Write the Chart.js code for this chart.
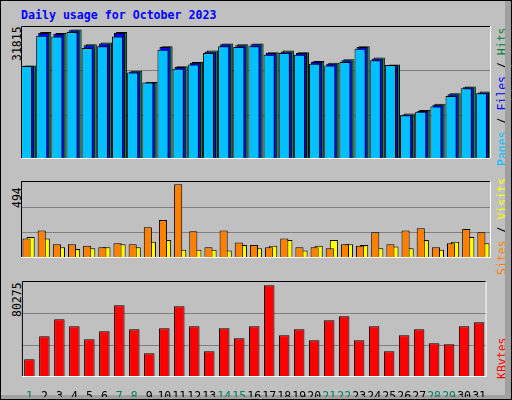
<!DOCTYPE html>
<html><head><meta charset="utf-8">
<script src="https://cdn.jsdelivr.net/npm/chart.js@4"></script>
<style>
body{margin:0;background:#fff}
#frame{position:absolute;left:0;top:0;width:510px;height:398px;background:#c0c0c0;border:1px solid #000;overflow:hidden;font-family:"DejaVu Sans Mono",monospace}
#frame:after{content:"";position:absolute;right:0;top:0;width:6px;height:398px;background:#a0a0a0}
#frame:before{content:"";position:absolute;left:0;bottom:0;width:510px;height:4px;background:#a0a0a0}
canvas{position:absolute}
.t{position:absolute;white-space:nowrap}
.rot{transform-origin:0 0;transform:rotate(-90deg)}
</style></head><body>
<div id="frame">
  <div class="t" style="left:20px;top:7px;color:#0000ff;font-weight:bold;font-size:11.6px">Daily usage for October 2023</div>
  <div class="t rot" style="left:9px;top:60px;font-size:11.5px">31815</div>
  <div class="t rot" style="left:9px;top:207px;font-size:11.5px">494</div>
  <div class="t rot" style="left:9px;top:316px;font-size:11.5px">80275</div>
  <div class="t rot" style="left:494px;top:165px;font-size:11.5px"><span style="color:#00c0ff">Pages</span> / <span style="color:#0000ff">Files</span> / <span style="color:#008040">Hits</span></div>
  <div class="t rot" style="left:494px;top:274px;font-size:11.5px"><span style="color:#ff8000">Sites</span> / <span style="color:#ffff00">Visits</span></div>
  <div class="t rot" style="left:494px;top:378px;font-size:11.5px;color:#ff0000">KBytes</div>
  <canvas id="c1" width="470" height="153" style="left:20px;top:25px"></canvas>
  <canvas id="c2" width="470" height="97" style="left:20px;top:180px"></canvas>
  <canvas id="c3" width="470" height="116" style="left:20px;top:280px"></canvas>
</div>
<script>
const days = Array.from({length: 31}, (_, i) => String(i + 1));
const weekend = ['1', '7', '8', '14', '15', '21', '22', '28', '29'];

const hitsMax = 31815;
const hits  = [22396,30350,30140,30977,27420,27840,30350,21140,18420,27000,22190,23230,25950,27630,27420,27630,25540,25950,25540,23440,23020,23860,27000,24280,22600,10880,11720,13190,15700,17370,16120];
const files = [22300,30140,29930,30770,27210,27630,30140,20930,18300,26790,21980,23020,25740,27420,27210,27420,25330,25740,25330,23230,22810,23650,26790,24070,22500,10670,11510,12980,15490,17160,15910];
const pages = [22250,29510,29300,30350,26580,27000,29300,20720,18300,26160,21560,22600,25330,27000,26790,27000,24910,25330,24910,22810,22390,23230,26370,23650,22500,10460,11300,12560,15070,16950,15700];

const visitsMax = 494;
const sites  = [135,125,69,58,63,69,89,69,104,115,53,53,53,48,84,63,79,115,48,79,115,89,84,63,74,63,115,53,104,135,94];
const visits = [125,176,89,89,79,69,94,89,197,243,473,171,69,176,99,84,69,125,69,69,63,89,79,166,89,176,191,69,94,186,166];

const kbMax = 80275;
const kbytes = [14800,34020,48230,42380,31520,38200,59940,39870,19810,40710,59100,42380,21480,40710,32350,42380,76660,34860,39870,30680,47400,50740,30680,42380,21480,34860,39870,28170,27340,42380,45730];

const panelPlugin = {
  id: 'panel',
  beforeDatasetsDraw(chart) {
    const {ctx, chartArea: a, scales: {y}} = chart;
    ctx.save();
    ctx.strokeStyle = '#808080';
    ctx.lineWidth = 1;
    for (let k = 1; k < 3; k++) {
      const py = Math.round(y.getPixelForValue(y.max * k / 3)) + 0.5;
      ctx.beginPath(); ctx.moveTo(a.left, py); ctx.lineTo(a.right, py); ctx.stroke();
    }
    ctx.restore();
  },
  afterDraw(chart) {
    const {ctx, chartArea: a} = chart;
    ctx.save();
    ctx.lineWidth = 1;
    ctx.strokeStyle = '#000';
    ctx.beginPath();
    ctx.moveTo(a.left + 0.5, a.bottom); ctx.lineTo(a.left + 0.5, a.top + 0.5); ctx.lineTo(a.right, a.top + 0.5);
    ctx.stroke();
    ctx.strokeStyle = '#fff';
    ctx.beginPath();
    ctx.moveTo(a.left, a.bottom - 0.5); ctx.lineTo(a.right - 0.5, a.bottom - 0.5); ctx.lineTo(a.right - 0.5, a.top);
    ctx.stroke();
    ctx.restore();
  }
};

// later-drawn series gets a lower order so it lands on top
function bar(label, data, color, order) {
  return {label, data, order, backgroundColor: color, borderColor: '#000', borderWidth: 1, borderSkipped: false};
}

function makeChart(id, datasets, max, catPct, barPct, showX) {
  new Chart(document.getElementById(id), {
    type: 'bar',
    data: {labels: days, datasets},
    options: {
      responsive: false, animation: false, devicePixelRatio: 1,
      categoryPercentage: catPct, barPercentage: barPct,
      layout: {padding: 0},
      plugins: {legend: {display: false}, tooltip: {enabled: false}},
      scales: {
        x: {
          display: showX,
          grid: {display: false}, border: {display: false},
          ticks: {
            padding: 5, maxRotation: 0, autoSkip: false,
            font: {family: 'DejaVu Sans Mono', size: 11.5},
            color: c => weekend.includes(days[c.index]) ? '#008060' : '#000'
          },
          afterFit: s => { s.height = 20; }
        },
        y: {display: false, min: 0, max}
      }
    },
    plugins: [panelPlugin]
  });
}

makeChart('c1', [
  bar('Hits', hits, '#008040', 3),
  bar('Files', files, '#0000ff', 2),
  bar('Pages', pages, '#00c0ff', 1)
], hitsMax, 0.4, 5.5, false);

makeChart('c2', [
  bar('Sites', sites, '#ffff00', 2),
  bar('Visits', visits, '#ff8000', 1)
], visitsMax, 0.536, 2, false);

makeChart('c3', [bar('KBytes', kbytes, '#ff0000', 1)], kbMax, 0.7, 1, true);
</script>
</body></html>
